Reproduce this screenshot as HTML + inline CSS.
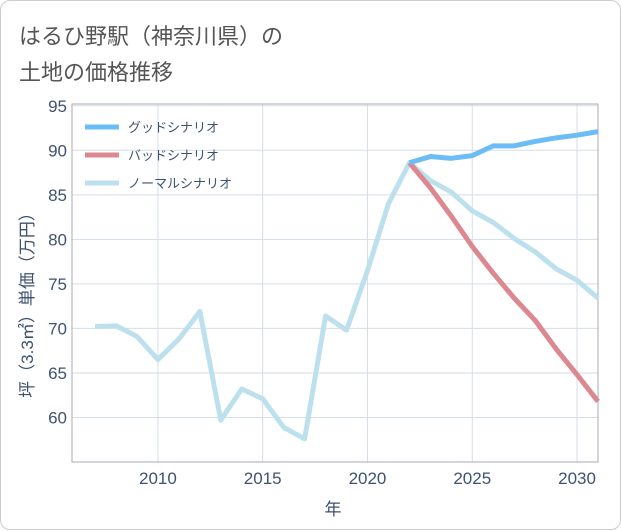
<!DOCTYPE html>
<html><head><meta charset="utf-8"><style>
body{margin:0;background:#fff;font-family:"Liberation Sans","Noto Sans CJK JP",sans-serif;}
#card{position:absolute;left:0;top:0;width:619px;height:528px;border:1px solid #ccc;border-radius:10px;background:#fff;}
.title{position:absolute;left:18px;font-size:22px;color:#555;}
</style></head><body>
<div id="card">
<div class="title" style="top:18px">はるひ野駅（神奈川県）の</div>
<div class="title" style="top:54px">土地の価格推移</div>
<svg id="chart" width="621" height="530" style="position:absolute;left:0;top:0"></svg>
</div>
<script>
const years=[2007,2008,2009,2010,2011,2012,2013,2014,2015,2016,2017,2018,2019,2020,2021,2022,2023,2024,2025,2026,2027,2028,2029,2030,2031];
const normalVals=[70.2,70.3,69.1,66.5,68.8,71.9,59.7,63.2,62.1,58.9,57.6,71.4,69.8,76.5,84,88.6,86.6,85.3,83.2,81.9,80.1,78.6,76.7,75.4,73.4];
const futureYears=[2022,2023,2024,2025,2026,2027,2028,2029,2030,2031];
const goodVals=[88.6,89.3,89.1,89.4,90.5,90.5,91,91.4,91.7,92.1];
const badVals=[88.6,85.8,82.6,79.2,76.2,73.4,70.9,67.7,64.8,61.8];
const yTicks=[60,65,70,75,80,85,90,95];
const xTicks=[2010,2015,2020,2025,2030];
const L=71,R=597,T=103,B=461;
const x=v=>L+(v-2005.9)/(2031-2005.9)*(R-L);
const y=v=>B-(v-55)/(95.2-55)*(B-T);
const svg=document.getElementById('chart');const NS='http://www.w3.org/2000/svg';
function mk(t,a,p){const e=document.createElementNS(NS,t);for(const k in a)e.setAttribute(k,a[k]);(p||svg).appendChild(e);return e;}
let g;
for(const v of yTicks){g=mk('line',{x1:L,x2:R,y1:y(v),y2:y(v),stroke:'#d5dde6','stroke-width':1});

const t=mk('text',{x:L-5,y:y(v)+6,'text-anchor':'end','font-size':17,fill:'#3e5270'});t.textContent=v;
}
for(const v of xTicks){g=mk('line',{x1:x(v),x2:x(v),y1:T,y2:B,stroke:'#d5dde6','stroke-width':1});

const t=mk('text',{x:x(v),y:B+22,'text-anchor':'middle','font-size':17,fill:'#3e5270'});t.textContent=v;
}
g=mk('rect',{x:L,y:T,width:R-L,height:B-T,fill:'none',stroke:'#aab','stroke-width':1});

function line(xs,vs,c,name){const p=mk('polyline',{points:xs.map((a,i)=>x(a)+','+y(vs[i])).join(' '),fill:'none',stroke:c,'stroke-width':5,'stroke-linejoin':'round'});
}
line(years,normalVals,'#bde0ee','normal-scenario-line');
line(futureYears,badVals,'#dd8890','bad-scenario-line');
line(futureYears,goodVals,'#6cbdf5','good-scenario-line');
const leg=[['グッドシナリオ','#6cbdf5',126],['バッドシナリオ','#dd8890',154],['ノーマルシナリオ','#bde0ee',182]];
for(const [n,c,yy] of leg){g=mk('line',{x1:84,x2:118,y1:yy,y2:yy,stroke:c,'stroke-width':5});

const t=mk('text',{x:127,y:yy+5,'font-size':13,fill:'#3e5270'});t.textContent=n;
}
let t=mk('text',{x:332,y:514,'text-anchor':'middle','font-size':17,fill:'#3e5270'});t.textContent='年';

t=mk('text',{x:0,y:0,'text-anchor':'middle','font-size':17,fill:'#3e5270',transform:'translate(32,300) rotate(-90)'});t.textContent='坪（3.3㎡）単価（万円）';

</script>
</body></html>
